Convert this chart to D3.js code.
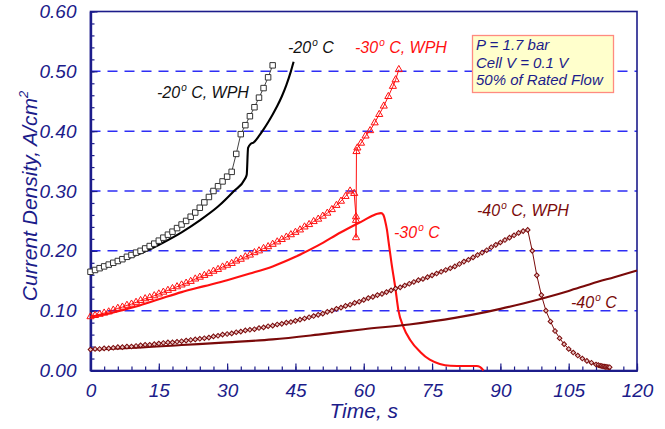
<!DOCTYPE html>
<html>
<head>
<meta charset="utf-8">
<script src="https://cdn.jsdelivr.net/npm/d3@7"></script>
<style>
body{margin:0;background:#fff;}
svg text{font-family:"Liberation Sans",Arial,sans-serif;font-style:italic;}
</style>
</head>
<body>
<div id="content"></div>
<script>
// marker series, one sample per second starting at t = 0
const wph20 = [0.165,0.168,0.171,0.174,0.177,0.180,0.183,0.186,0.190,0.193,
  0.197,0.200,0.204,0.208,0.212,0.217,0.222,0.227,0.232,0.238,
  0.244,0.250,0.257,0.264,0.272,0.281,0.290,0.300,0.308,0.316,
  0.324,0.332,0.362,0.395,0.410,0.425,0.440,0.456,0.472,0.490,0.510];
const wph30 = [0.090,0.092,0.094,0.096,0.098,0.101,0.104,0.106,0.109,0.111,
  0.114,0.117,0.120,0.122,0.125,0.128,0.131,0.134,0.137,0.140,
  0.143,0.146,0.149,0.153,0.156,0.159,0.162,0.166,0.169,0.173,
  0.176,0.179,0.183,0.186,0.190,0.193,0.197,0.200,0.204,0.207,
  0.211,0.215,0.219,0.223,0.227,0.231,0.235,0.240,0.244,0.249,
  0.253,0.258,0.263,0.269,0.276,0.283,0.291,0.300];
// after the peak the -30 WPH run is logged at uneven times
const wph30Tail = [[57.9,0.296],[58.3,0.257],[58.3,0.251],[58.3,0.222],[58.4,0.366],
  [58.6,0.372],[59.4,0.380],[60.4,0.392],[61.4,0.401],[62.4,0.414],[63.4,0.428],
  [64.4,0.442],[65.4,0.458],[66.4,0.475],[67.0,0.486],[67.7,0.503]];
const wph40 = [0.035,0.036,0.036,0.037,0.037,0.038,0.039,0.039,0.040,0.040,
  0.041,0.042,0.043,0.043,0.044,0.045,0.046,0.047,0.047,0.048,
  0.049,0.050,0.051,0.052,0.053,0.054,0.055,0.057,0.058,0.060,
  0.061,0.062,0.064,0.065,0.067,0.068,0.069,0.071,0.072,0.074,
  0.075,0.077,0.078,0.080,0.081,0.083,0.085,0.087,0.089,0.091,
  0.093,0.095,0.098,0.100,0.103,0.105,0.108,0.110,0.113,0.115,
  0.118,0.121,0.123,0.126,0.128,0.131,0.134,0.137,0.139,0.142,
  0.145,0.148,0.151,0.153,0.156,0.159,0.162,0.165,0.168,0.171,
  0.174,0.178,0.182,0.185,0.189,0.193,0.197,0.201,0.206,0.210,
  0.214,0.218,0.222,0.226,0.230,0.233,0.235,0.200,0.159,0.126,
  0.100,0.082,0.066,0.054,0.044,0.036,0.030,0.025,0.020,0.016,0.013,0.010];
const wph40Tail = [[111.5,0.009],[111.9,0.008],[112.2,0.0075],[112.5,0.007],[112.8,0.0065],
  [113.1,0.006],[113.4,0.006],[113.7,0.0055],[114,0.0055]];

// plain runs, [time s, current density]
const solid20 = [[0,0.165],[4,0.175],[8,0.187],[12.3,0.200],[16,0.214],[20,0.231],[24,0.251],[28,0.274],
  [31.5,0.300],[33.9,0.320],[34.3,0.327],[34.6,0.372],[35.2,0.379],[35.8,0.381],[37,0.392],[38,0.403],
  [39,0.415],[40,0.428],[41,0.442],[42,0.458],[43,0.477],[44,0.500],[44.6,0.516]];
const solid30 = [[0,0.090],[5,0.097],[10,0.107],[15,0.119],[20,0.131],[25,0.141],[30,0.151],[35,0.162],
  [40,0.174],[45,0.190],[50,0.209],[55,0.231],[60,0.251],[62,0.259],[63,0.262],[63.8,0.263],[64.3,0.260],
  [64.7,0.250],[65.1,0.235],[65.4,0.218],[66.1,0.179],[66.9,0.140],[67.6,0.101],[68.7,0.073],[70.2,0.051],
  [72.4,0.031],[74.5,0.018],[76.7,0.011],[79,0.008],[82,0.0075],[84.8,0.0075],[85.5,0.006],[86.3,0]];
const solid40 = [[0,0.035],[5,0.0365],[10,0.038],[20,0.0425],[30,0.047],[40,0.052],[50,0.060],[60,0.069],
  [70,0.077],[80,0.088],[87,0.098],[90,0.103],[95,0.112],[100,0.122],[105,0.133],[110,0.145],[115,0.156],[120,0.167]];

const xTicks = [0,15,30,45,60,75,90,105,120];
const yTicks = [0,0.1,0.2,0.3,0.4,0.5,0.6];
const notes = ["P = 1.7 bar","Cell V = 0.1 V","50% of Rated Flow"];

const w = 665, h = 429;
const navy = "#1c1c8a";
const red = "#ff1010", maroon = "#7a0a0a";

const x = d3.scaleLinear().domain([0,120]).range([90.5,637]);
const y = d3.scaleLinear().domain([0,0.6]).range([370.5,11.5]);

const svg = d3.select("#content").append("svg").attr("width",w).attr("height",h);

const perSecond = arr => arr.map((v,i)=>[i,v]);

// dashed grid
svg.append("g").selectAll("line").data([0.1,0.2,0.3,0.4,0.5]).enter().append("line")
  .attr("x1",x(0)).attr("x2",x(120)).attr("y1",d=>y(d)).attr("y2",d=>y(d))
  .attr("stroke","#2e2ef5").attr("stroke-width",1.5).attr("stroke-dasharray","10,7");

// frame
svg.append("rect").attr("x",x(0)).attr("y",y(0.6)).attr("width",x(120)-x(0)).attr("height",y(0)-y(0.6))
  .attr("fill","none").attr("stroke",navy).attr("stroke-width",1.6);

// axes: minor ticks first, then labelled major ticks
const fmtY = d3.format(".2f");
svg.append("g").attr("transform",`translate(0,${y(0)})`)
  .call(d3.axisBottom(x).tickValues(d3.range(0,121,3)).tickSizeInner(-4).tickSizeOuter(0).tickFormat(""));
svg.append("g").attr("id","x-axis").attr("transform",`translate(0,${y(0)})`)
  .call(d3.axisBottom(x).tickValues(xTicks).tickSizeInner(-7).tickSizeOuter(0).tickPadding(10));
svg.append("g").attr("transform",`translate(${x(0)},0)`)
  .call(d3.axisLeft(y).tickValues(d3.range(0,31).map(i=>i*0.02)).tickSizeInner(-4).tickSizeOuter(0).tickFormat(""));
svg.append("g").attr("id","y-axis").attr("transform",`translate(${x(0)},0)`)
  .call(d3.axisLeft(y).tickValues(yTicks).tickSizeInner(-7).tickSizeOuter(0).tickPadding(14).tickFormat(fmtY));

svg.selectAll(".domain").attr("stroke",navy).attr("stroke-width",2.2);
svg.selectAll(".tick line").attr("stroke",navy).attr("stroke-width",1.2);
svg.selectAll(".tick text").attr("fill",navy).style("font-size","19px");
svg.select("#x-axis").selectAll(".tick text").attr("dy","0.85em");

// legend box with test conditions
const box = svg.append("g");
box.append("rect").attr("x",472.5).attr("y",35.5).attr("width",141).attr("height",57)
  .attr("fill","#ffffcc").attr("stroke","#ff8a80").attr("stroke-width",1.3);
box.selectAll("text").data(notes).enter().append("text")
  .attr("x",476).attr("y",(d,i)=>50+i*17.5).attr("fill",navy).style("font-size","15px").text(d=>d);

const line = d3.line().x(d=>x(d[0])).y(d=>y(d[1]));
const smooth = d3.line().x(d=>x(d[0])).y(d=>y(d[1])).curve(d3.curveMonotoneX);

// plain curves
[[solid20,"#000"],[solid30,red],[solid40,maroon]].forEach(([data,col])=>{
  svg.append("path").attr("d",smooth(data)).attr("fill","none").attr("stroke",col).attr("stroke-width",2.1);
});

// marker curves (diamonds are squares turned 45 degrees)
const marked = [
  {data:perSecond(wph20),stroke:"#333",lineCol:"#444",fill:"#fff",sym:d3.symbolSquare,size:30,rot:0},
  {data:perSecond(wph30).concat(wph30Tail),stroke:red,lineCol:red,fill:"none",sym:d3.symbolTriangle,size:22,rot:0},
  {data:perSecond(wph40).concat(wph40Tail),stroke:maroon,lineCol:maroon,fill:"#e8c4c4",sym:d3.symbolSquare,size:11,rot:45}
];
marked.forEach(s=>{
  svg.append("path").attr("d",line(s.data)).attr("fill","none").attr("stroke",s.lineCol).attr("stroke-width",1);
  svg.append("g").selectAll("path").data(s.data).enter().append("path")
    .attr("transform",d=>`translate(${x(d[0])},${y(d[1])}) rotate(${s.rot})`)
    .attr("d",d3.symbol().type(s.sym).size(s.size))
    .attr("fill",s.fill).attr("stroke",s.stroke).attr("stroke-width",1);
});

// curve labels
const labels = [
  {t:"-20",rest:" C",x:288,y:53,c:"#111"},
  {t:"-20",rest:" C, WPH",x:157,y:98,c:"#111"},
  {t:"-30",rest:" C, WPH",x:355,y:53,c:red},
  {t:"-30",rest:" C",x:394,y:238,c:red},
  {t:"-40",rest:" C, WPH",x:477,y:216,c:maroon},
  {t:"-40",rest:" C",x:571,y:308,c:maroon}
];
labels.forEach(l=>{
  const tx = svg.append("text").attr("x",l.x).attr("y",l.y).attr("fill",l.c).style("font-size","16px");
  tx.append("tspan").text(l.t);
  tx.append("tspan").attr("dx",1).attr("dy",-7).style("font-size","10px").text("o");
  tx.append("tspan").attr("dy",7).text(l.rest);
});

// axis titles
svg.append("text").attr("x",x(60)).attr("y",418).attr("text-anchor","middle")
  .attr("fill",navy).style("font-size","21px").text("Time, s");
const yt = svg.append("text").attr("transform","translate(37,196) rotate(-90)").attr("text-anchor","middle")
  .attr("fill",navy).style("font-size","21px");
yt.append("tspan").text("Current Density, A/cm");
yt.append("tspan").attr("dy",-9).style("font-size","13px").text("2");
</script>
</body>
</html>
